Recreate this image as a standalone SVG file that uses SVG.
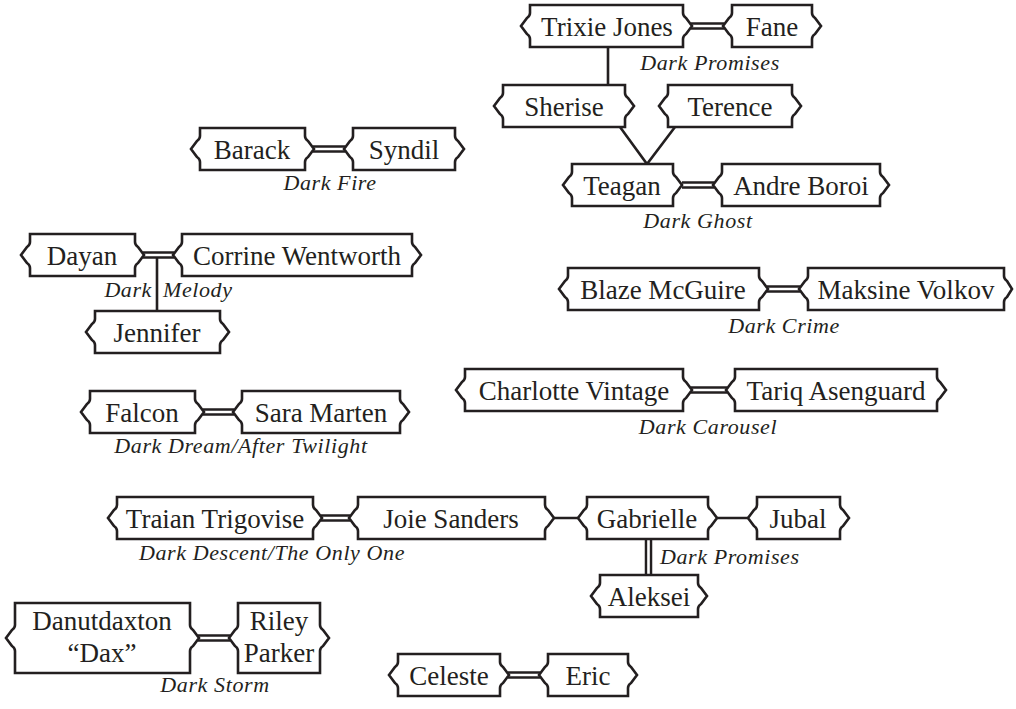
<svg xmlns="http://www.w3.org/2000/svg" width="1016" height="709" viewBox="0 0 1016 709">
<style>
.n{fill:#fff;stroke:#231f20;stroke-width:2.6;stroke-linejoin:miter}
.t{font-family:"Liberation Serif",serif;font-size:27px;fill:#231f20;text-anchor:middle}
.l{font-family:"Liberation Serif",serif;font-size:22px;font-style:italic;fill:#231f20;text-anchor:middle;letter-spacing:0.6px}
.s{stroke:#231f20;stroke-width:2.6;fill:none}
.dk{stroke:#231f20;stroke-width:7.5;fill:none}
.dw{stroke:#fff;stroke-width:2.6;fill:none}
</style>
<rect width="1016" height="709" fill="#fff"/>
<g id="connectors">
<path class="s" d="M608 47V85M620 127L647 164L675 127M157 258V311M554 518H578M717 518H748"/>
<path class="dk" d="M691 26H724M682 185H714M313 149H345M143 255H174M203 412H234M767 289H800M691 390H727M321 518H350M198 638H230M508 675H540M648.5 539V575"/>
<path class="dw" d="M689 26H726M680 185H716M311 149H347M141 255H176M201 412H236M765 289H802M689 390H729M319 518H352M196 638H232M506 675H542M648.5 538V576"/>
</g>
<g id="trixie"><path class="n" d="M530 5H683V13Q683 16 686 18L692 26L686 34Q683 36 683 39V47H530V39Q530 36 527 34L521 26L527 18Q530 16 530 13Z"/><text class="t" x="607" y="35.5">Trixie Jones</text></g>
<g id="fane"><path class="n" d="M732 5H812V13Q812 16 815 18L821 26L815 34Q812 36 812 39V47H732V39Q732 36 729 34L723 26L729 18Q732 16 732 13Z"/><text class="t" x="772" y="35.5">Fane</text></g>
<g id="sherise"><path class="n" d="M503 85H625V93Q625 96 628 98L634 106L628 114Q625 116 625 119V127H503V119Q503 116 500 114L494 106L500 98Q503 96 503 93Z"/><text class="t" x="564" y="115.5">Sherise</text></g>
<g id="terence"><path class="n" d="M668 85H792V93Q792 96 795 98L801 106L795 114Q792 116 792 119V127H668V119Q668 116 665 114L659 106L665 98Q668 96 668 93Z"/><text class="t" x="730" y="115.5">Terence</text></g>
<g id="teagan"><path class="n" d="M572 164H673V172Q673 175 676 177L682 185L676 193Q673 195 673 198V206H572V198Q572 195 569 193L563 185L569 177Q572 175 572 172Z"/><text class="t" x="622" y="194.5">Teagan</text></g>
<g id="andre"><path class="n" d="M722 164H880V172Q880 175 883 177L889 185L883 193Q880 195 880 198V206H722V198Q722 195 719 193L713 185L719 177Q722 175 722 172Z"/><text class="t" x="801" y="194.5">Andre Boroi</text></g>
<g id="barack"><path class="n" d="M200 128H305V136Q305 139 308 141L314 149L308 157Q305 159 305 162V170H200V162Q200 159 197 157L191 149L197 141Q200 139 200 136Z"/><text class="t" x="252" y="158.5">Barack</text></g>
<g id="syndil"><path class="n" d="M353 128H455V136Q455 139 458 141L464 149L458 157Q455 159 455 162V170H353V162Q353 159 350 157L344 149L350 141Q353 139 353 136Z"/><text class="t" x="404" y="158.5">Syndil</text></g>
<g id="dayan"><path class="n" d="M30 234H135V242Q135 245 138 247L144 255L138 263Q135 265 135 268V276H30V268Q30 265 27 263L21 255L27 247Q30 245 30 242Z"/><text class="t" x="82" y="264.5">Dayan</text></g>
<g id="corrine"><path class="n" d="M182 234H412V242Q412 245 415 247L421 255L415 263Q412 265 412 268V276H182V268Q182 265 179 263L173 255L179 247Q182 245 182 242Z"/><text class="t" x="297" y="264.5">Corrine Wentworth</text></g>
<g id="jennifer"><path class="n" d="M95 311H220V319Q220 322 223 324L229 332L223 340Q220 342 220 345V353H95V345Q95 342 92 340L86 332L92 324Q95 322 95 319Z"/><text class="t" x="157" y="341.5">Jennifer</text></g>
<g id="falcon"><path class="n" d="M90 391H195V399Q195 402 198 404L204 412L198 420Q195 422 195 425V433H90V425Q90 422 87 420L81 412L87 404Q90 402 90 399Z"/><text class="t" x="142" y="421.5">Falcon</text></g>
<g id="sara"><path class="n" d="M242 391H400V399Q400 402 403 404L409 412L403 420Q400 422 400 425V433H242V425Q242 422 239 420L233 412L239 404Q242 402 242 399Z"/><text class="t" x="321" y="421.5">Sara Marten</text></g>
<g id="blaze"><path class="n" d="M568 268H759V276Q759 279 762 281L768 289L762 297Q759 299 759 302V310H568V302Q568 299 565 297L559 289L565 281Q568 279 568 276Z"/><text class="t" x="663" y="298.5">Blaze McGuire</text></g>
<g id="maksine"><path class="n" d="M808 268H1004V276Q1004 279 1007 281L1012 289L1007 297Q1004 299 1004 302V310H808V302Q808 299 805 297L799 289L805 281Q808 279 808 276Z"/><text class="t" x="906" y="298.5">Maksine Volkov</text></g>
<g id="charlotte"><path class="n" d="M465 369H683V377Q683 380 686 382L692 390L686 398Q683 400 683 403V411H465V403Q465 400 462 398L456 390L462 382Q465 380 465 377Z"/><text class="t" x="574" y="399.5">Charlotte Vintage</text></g>
<g id="tariq"><path class="n" d="M735 369H937V377Q937 380 940 382L946 390L940 398Q937 400 937 403V411H735V403Q735 400 732 398L726 390L732 382Q735 380 735 377Z"/><text class="t" x="836" y="399.5">Tariq Asenguard</text></g>
<g id="traian"><path class="n" d="M117 497H313V505Q313 508 316 510L322 518L316 526Q313 528 313 531V539H117V531Q117 528 114 526L108 518L114 510Q117 508 117 505Z"/><text class="t" x="215" y="527.5">Traian Trigovise</text></g>
<g id="joie"><path class="n" d="M358 497H545V505Q545 508 548 510L554 518L548 526Q545 528 545 531V539H358V531Q358 528 355 526L349 518L355 510Q358 508 358 505Z"/><text class="t" x="451" y="527.5">Joie Sanders</text></g>
<g id="gabrielle"><path class="n" d="M587 497H708V505Q708 508 711 510L717 518L711 526Q708 528 708 531V539H587V531Q587 528 584 526L578 518L584 510Q587 508 587 505Z"/><text class="t" x="647" y="527.5">Gabrielle</text></g>
<g id="jubal"><path class="n" d="M757 497H840V505Q840 508 843 510L849 518L843 526Q840 528 840 531V539H757V531Q757 528 754 526L748 518L754 510Q757 508 757 505Z"/><text class="t" x="798" y="527.5">Jubal</text></g>
<g id="aleksei"><path class="n" d="M600 575H698V583Q698 586 701 588L707 596L701 604Q698 606 698 609V617H600V609Q600 606 597 604L591 596L597 588Q600 586 600 583Z"/><text class="t" x="649" y="605.5">Aleksei</text></g>
<g id="dax"><path class="n" d="M15 603H190V625Q190 628 193 630L199 638L193 646Q190 648 190 651V673H15V651Q15 648 12 646L6 638L12 630Q15 628 15 625Z"/><text class="t" x="102" y="630">Danutdaxton</text><text class="t" x="102" y="662">“Dax”</text></g>
<g id="riley"><path class="n" d="M238 603H320V625Q320 628 323 630L329 638L323 646Q320 648 320 651V673H238V651Q238 648 235 646L229 638L235 630Q238 628 238 625Z"/><text class="t" x="279" y="630">Riley</text><text class="t" x="279" y="662">Parker</text></g>
<g id="celeste"><path class="n" d="M398 654H500V662Q500 665 503 667L509 675L503 683Q500 685 500 688V696H398V688Q398 685 395 683L389 675L395 667Q398 665 398 662Z"/><text class="t" x="449" y="684.5">Celeste</text></g>
<g id="eric"><path class="n" d="M548 654H628V662Q628 665 631 667L637 675L631 683Q628 685 628 688V696H548V688Q548 685 545 683L539 675L545 667Q548 665 548 662Z"/><text class="t" x="588" y="684.5">Eric</text></g>
<g id="labels">
<text class="l" x="710" y="70">Dark Promises</text>
<text class="l" x="698" y="228">Dark Ghost</text>
<text class="l" x="330" y="190">Dark Fire</text>
<text class="l" x="152" y="297" style="text-anchor:end">Dark</text>
<text class="l" x="163" y="297" style="text-anchor:start">Melody</text>
<text class="l" x="241" y="453">Dark Dream/After Twilight</text>
<text class="l" x="784" y="333">Dark Crime</text>
<text class="l" x="708" y="434">Dark Carousel</text>
<text class="l" x="272" y="560">Dark Descent/The Only One</text>
<text class="l" x="660" y="564" style="text-anchor:start">Dark Promises</text>
<text class="l" x="215" y="692">Dark Storm</text>
</g>
</svg>
